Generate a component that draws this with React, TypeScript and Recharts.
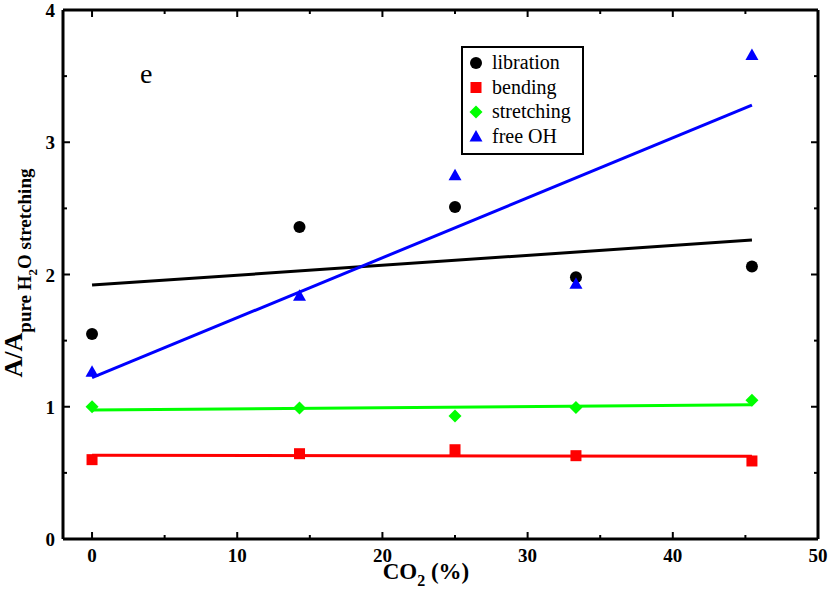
import React from 'react';
import { ScatterChart, Scatter, XAxis, YAxis, Legend, Customized } from 'recharts';

// ---- data ----
const co2 = [0, 14.29, 25, 33.33, 45.45];
const libration = [1.55, 2.36, 2.51, 1.98, 2.06];
const bending = [0.6, 0.645, 0.675, 0.63, 0.59];
const stretching = [1.0, 0.99, 0.93, 0.995, 1.05];
const freeOH = [1.265, 1.84, 2.75, 1.93, 3.66];

const fitX = [0, 45.45];
const librationFit = [1.92, 2.26];
const bendingFit = [0.633, 0.625];
const stretchingFit = [0.975, 1.015];
const freeOHFit = [1.22, 3.28];

const xTicks = [0, 5, 10, 15, 20, 25, 30, 35, 40, 45, 50];
const yTicks = [0, 0.5, 1, 1.5, 2, 2.5, 3, 3.5, 4];
const seriesNames = ['libration', 'bending', 'stretching', 'free OH'];
const seriesColors = ['#000000', '#ff0000', '#00ff00', '#0000ff'];

const FONT = '"Liberation Serif", "DejaVu Serif", serif';
const X_DOMAIN: [number, number] = [-2, 50];
const Y_DOMAIN: [number, number] = [0, 4];

const TC = '#000000';
const MAJOR = 7;
const MINOR = 4;

const pts = (xs: number[], ys: number[]) => xs.map((x, i) => ({ x, y: ys[i] }));

const drawMarker = (kind: number, cx: number, cy: number, color: string) => {
  if (kind === 0) return <circle cx={cx} cy={cy} r={6} fill={color} />;
  if (kind === 1) return <rect x={cx - 5.5} y={cy - 5.5} width={11} height={11} fill={color} />;
  if (kind === 2)
    return (
      <polygon
        points={`${cx},${cy - 6.5} ${cx + 6.5},${cy} ${cx},${cy + 6.5} ${cx - 6.5},${cy}`}
        fill={color}
      />
    );
  return (
    <polygon points={`${cx},${cy - 6.5} ${cx + 6.5},${cy + 5} ${cx - 6.5},${cy + 5}`} fill={color} />
  );
};

const makeShape = (kind: number, color: string) => (props: any) => {
  const { cx, cy } = props;
  if (cx == null || cy == null) return <g />;
  return drawMarker(kind, cx, cy, color);
};

const noShape = () => <g />;

const BottomTick = (props: any) => {
  const { x, y, payload } = props;
  const v = payload.value;
  const major = v % 10 === 0;
  return (
    <g>
      <line x1={x} x2={x} y1={y} y2={y - (major ? MAJOR : MINOR)} stroke={TC} strokeWidth={2} />
      {major && (
        <text x={x} y={y + 23} textAnchor="middle" fontFamily={FONT} fontWeight="bold" fontSize={19} fill="#000">
          {v}
        </text>
      )}
    </g>
  );
};

const TopTick = (props: any) => {
  const { x, y, payload } = props;
  const major = payload.value % 10 === 0;
  return <line x1={x} x2={x} y1={y} y2={y + (major ? MAJOR : MINOR)} stroke={TC} strokeWidth={2} />;
};

const LeftTick = (props: any) => {
  const { x, y, payload } = props;
  const v = payload.value;
  const major = Number.isInteger(v);
  return (
    <g>
      <line x1={x} x2={x + (major ? MAJOR : MINOR)} y1={y} y2={y} stroke={TC} strokeWidth={2} />
      {major && (
        <text x={x - 8} y={y + 7} textAnchor="end" fontFamily={FONT} fontWeight="bold" fontSize={19} fill="#000">
          {v}
        </text>
      )}
    </g>
  );
};

const RightTick = (props: any) => {
  const { x, y, payload } = props;
  const major = Number.isInteger(payload.value);
  return <line x1={x} x2={x - (major ? MAJOR : MINOR)} y1={y} y2={y} stroke={TC} strokeWidth={2} />;
};

const LegendBox = () => (
  <svg width={124} height={110} style={{ display: 'block' }}>
    <rect x={1} y={1} width={121} height={107} fill="#fff" stroke="#000" strokeWidth={2} />
    {seriesNames.map((name, i) => {
      const cy = 17 + i * 24.5;
      return (
        <g key={name}>
          {drawMarker(i, 15, cy, seriesColors[i])}
          <text x={31} y={cy + 6} fontFamily={FONT} fontSize={20} fill="#000">
            {name}
          </text>
        </g>
      );
    })}
  </svg>
);

const Texts = () => (
  <g>
    <text x={140} y={83} fontFamily={FONT} fontSize={28} fill="#000">
      e
    </text>
    <text x={426} y={579} textAnchor="middle" fontFamily={FONT} fontWeight="bold" fontSize={23} fill="#000">
      CO
      <tspan fontSize={16} dy={7}>
        2
      </tspan>
      <tspan dy={-7}>{'\u00a0(%)'}</tspan>
    </text>
    <text
      x={22}
      y={273}
      transform="rotate(-90 22 273)"
      textAnchor="middle"
      fontFamily={FONT}
      fontWeight="bold"
      fill="#000"
    >
      <tspan fontSize={26}>A/A</tspan>
      <tspan fontSize={19} dy={9}>
        pure H
      </tspan>
      <tspan fontSize={13} dy={6}>
        2
      </tspan>
      <tspan fontSize={19} dy={-6}>
        O stretching
      </tspan>
    </text>
  </g>
);

const pointSets = [libration, bending, stretching, freeOH];
const fitSets = [librationFit, bendingFit, stretchingFit, freeOHFit];

const frame = { stroke: '#000', strokeWidth: 3 };

export default function App() {
  return (
    <div style={{ position: 'absolute', left: 0, top: 0, width: 830, height: 599, background: '#fff' }}>
      <ScatterChart width={830} height={599} margin={{ top: 9, right: 11, bottom: 0, left: 0 }}>
        <XAxis xAxisId="b" type="number" dataKey="x" domain={X_DOMAIN} ticks={xTicks} interval={0}
          allowDataOverflow height={60} tickSize={0} tickMargin={0} tick={<BottomTick />}
          tickLine={false} axisLine={frame} />
        <XAxis xAxisId="t" orientation="top" type="number" dataKey="x" domain={X_DOMAIN} ticks={xTicks}
          interval={0} allowDataOverflow height={1} tickSize={0} tickMargin={0} tick={<TopTick />}
          tickLine={false} axisLine={frame} />
        <YAxis yAxisId="l" type="number" dataKey="y" domain={Y_DOMAIN} ticks={yTicks} interval={0}
          allowDataOverflow width={63} tickSize={0} tickMargin={0} tick={<LeftTick />}
          tickLine={false} axisLine={frame} />
        <YAxis yAxisId="r" orientation="right" type="number" dataKey="y" domain={Y_DOMAIN} ticks={yTicks}
          interval={0} allowDataOverflow width={1} tickSize={0} tickMargin={0} tick={<RightTick />}
          tickLine={false} axisLine={frame} />

        {fitSets.map((f, i) => (
          <Scatter
            key={'fit' + i}
            xAxisId="b"
            yAxisId="l"
            data={pts(fitX, f)}
            line={{ stroke: seriesColors[i], strokeWidth: 3 }}
            shape={noShape}
            legendType="none"
            isAnimationActive={false}
          />
        ))}
        {pointSets.map((s, i) => (
          <Scatter
            key={seriesNames[i]}
            name={seriesNames[i]}
            xAxisId="b"
            yAxisId="l"
            data={pts(co2, s)}
            fill={seriesColors[i]}
            shape={makeShape(i, seriesColors[i])}
            isAnimationActive={false}
          />
        ))}
        <Scatter xAxisId="t" yAxisId="r" data={pts(co2, libration)} shape={noShape} legendType="none" isAnimationActive={false} />
        <Legend
          layout="vertical"
          align="center"
          verticalAlign="middle"
          content={() => <LegendBox />}
          wrapperStyle={{ left: 461, top: 46, width: 124, height: 110 }}
        />
        <Customized component={Texts} />
      </ScatterChart>
    </div>
  );
}
